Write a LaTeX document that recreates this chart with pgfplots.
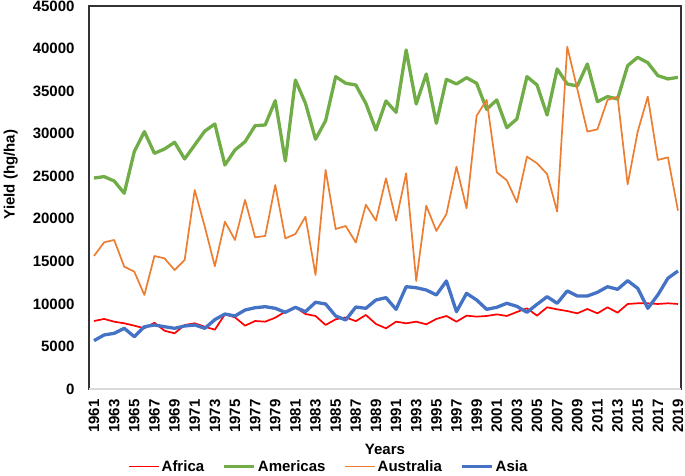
\documentclass[border=0pt]{standalone}
\usepackage{fontspec}
\setmainfont{Liberation Sans}
\usepackage{pgfplots}
\usepackage{pgfplotstable}
\pgfplotsset{compat=1.18}
\definecolor{cAfr}{HTML}{FF0000}
\definecolor{cAme}{HTML}{70AD47}
\definecolor{cAus}{HTML}{ED7D31}
\definecolor{cAsi}{HTML}{4472C4}
\pgfplotstableread{
year africa americas australia asia
1961 7990 24790 15630 5680
1962 8230 24950 17230 6350
1963 7910 24440 17510 6540
1964 7720 23000 14370 7130
1965 7440 27900 13790 6150
1966 7130 30240 11050 7320
1967 7790 27690 15630 7520
1968 6850 28200 15350 7320
1969 6540 28990 13980 7130
1970 7520 27030 15160 7400
1971 7720 28670 23380 7520
1972 7320 30300 19070 7130
1973 6970 31140 14430 8150
1974 8770 26320 19660 8810
1975 8420 28080 17510 8580
1976 7440 29060 22210 9280
1977 7990 30940 17820 9550
1978 7910 31020 17980 9670
1979 8380 33880 23970 9480
1980 9090 26790 17700 9010
1981 9600 36300 18210 9600
1982 8810 33570 20250 9090
1983 8580 29340 13400 10190
1984 7520 31530 25730 9990
1985 8190 36700 18800 8580
1986 8420 35920 19150 8110
1987 7970 35720 17210 9630
1988 8700 33560 21650 9480
1989 7640 30430 19780 10460
1990 7130 33840 24760 10730
1991 7910 32510 19780 9360
1992 7720 39830 25340 12020
1993 7910 33490 12690 11900
1994 7600 37010 21540 11630
1995 8230 31220 18570 11050
1996 8580 36390 20560 12690
1997 7910 35840 26120 9090
1998 8620 36580 21230 11240
1999 8500 35920 32110 10460
2000 8580 32860 33960 9360
2001 8770 33960 25460 9600
2002 8580 30700 24520 10070
2003 9050 31730 21930 9710
2004 9480 36700 27300 9010
2005 8620 35720 26520 9950
2006 9600 32190 25260 10850
2007 9360 37600 20840 10070
2008 9160 35840 40220 11520
2009 8890 35600 35250 10930
2010 9400 38190 30240 10930
2011 8890 33760 30510 11360
2012 9600 34350 33960 12020
2013 8970 34080 34350 11710
2014 9990 37990 24050 12730
2015 10070 38970 30240 11830
2016 10070 38340 34350 9480
2017 9990 36820 26910 11050
2018 10070 36430 27220 13010
2019 9990 36620 20960 13870
}\datatable
\begin{document}
\begin{tikzpicture}
\begin{axis}[
  scale only axis,
  width=592bp, height=383bp,
  at={(0,0)}, anchor=south west,
  xmin=1960.5, xmax=2019.3,
  ymin=0, ymax=45000,
  xtick={1961,1963,...,2019},
  ytick={0,5000,...,45000},
  scaled y ticks=false,
  scaled x ticks=false,
  major tick length=0pt,
  /pgf/number format/.cd, 1000 sep={}, assume math mode=true,
  /pgfplots/.cd,
  tick label style={font=\fontsize{15bp}{17bp}\selectfont\bfseries},
  x tick label style={rotate=90, anchor=east},
  xticklabel shift=7bp,
  yticklabel shift=11bp,
  axis line style={draw=black!80, line width=1.1bp},
  xlabel={Years},
  ylabel={Yield (hg/ha)},
  every axis x label/.style={at={(axis description cs:0.5,-0.157)}, anchor=center, font=\fontsize{15bp}{17bp}\selectfont\bfseries},
  every axis y label/.style={at={(axis description cs:-0.132,0.56)}, rotate=90, anchor=center, font=\fontsize{15bp}{17bp}\selectfont\bfseries},
  legend columns=4,
  legend style={draw=none, fill=none, at={(axis description cs:0.0655,-0.2025)}, anchor=west,
    font=\fontsize{15bp}{16bp}\selectfont\bfseries, inner sep=0pt,
    /tikz/every even column/.append style={column sep=16.5bp}},
  legend image code/.code={\draw[#1] (0bp,0bp) -- (30bp,0bp);},
  every axis plot/.append style={line join=round},
]
\addplot[cAfr, line width=1.7bp] table[x=year, y=africa] {\datatable};
\addlegendentry{Africa}
\addplot[cAme, line width=3.3bp] table[x=year, y=americas] {\datatable};
\addlegendentry{Americas}
\addplot[cAus, line width=1.7bp] table[x=year, y=australia] {\datatable};
\addlegendentry{Australia}
\addplot[cAsi, line width=3.3bp] table[x=year, y=asia] {\datatable};
\addlegendentry{Asia}
\draw[draw=black!15, line width=1.3bp] (rel axis cs:0,0) -- (rel axis cs:1,0);
\end{axis}
\pgfresetboundingbox
\path (-89bp,-87bp) rectangle (596bp,389bp);
\end{tikzpicture}
\end{document}
